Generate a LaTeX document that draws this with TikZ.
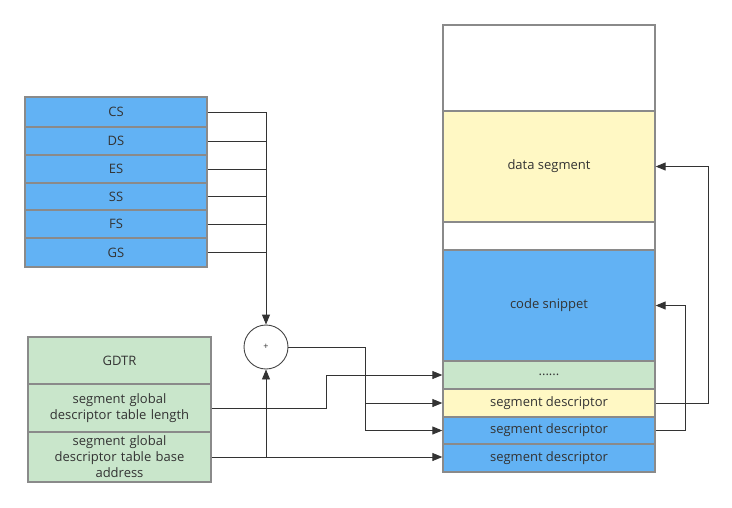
\documentclass[tikz,border=0pt]{standalone}
\usepackage{fontspec}
\setmainfont{Open Sans}
\usetikzlibrary{arrows.meta}
\definecolor{cblue}{HTML}{62B2F4}
\definecolor{cyellow}{HTML}{FFF8C4}
\definecolor{cgreen}{HTML}{C9E6CB}
\definecolor{cborder}{HTML}{8A8A8A}
\definecolor{csep}{HTML}{454545}
\definecolor{ctext}{HTML}{333333}
\definecolor{cline}{HTML}{333333}
\tikzset{
  cell/.style={draw=cborder, line width=1.3pt, rectangle, inner sep=0pt, text=ctext,
    font=\fontsize{13}{16}\selectfont, align=center},
  conn/.style={draw=cline, line width=0.9pt},
  arr/.style={conn, -{Triangle[length=10pt,width=8pt]}},
}
\begin{document}
\begin{tikzpicture}[x=1pt,y=-1pt]
\useasboundingbox (0,0) rectangle (732,507);
% registers
\node[cell, fill=cblue, minimum width=182pt, minimum height=30pt] (cs) at (116,112) {CS};
\node[cell, fill=cblue, minimum width=182pt, minimum height=28pt] (ds) at (116,141) {DS};
\node[cell, fill=cblue, minimum width=182pt, minimum height=28pt] (es) at (116,169) {ES};
\node[cell, fill=cblue, minimum width=182pt, minimum height=27pt] (ss) at (116,196.5) {SS};
\node[cell, fill=cblue, minimum width=182pt, minimum height=28pt] (fs) at (116,224) {FS};
\node[cell, fill=cblue, minimum width=182pt, minimum height=29pt] (gs) at (116,252.5) {GS};
% GDTR
\node[cell, fill=cgreen, minimum width=183pt, minimum height=47pt] (gdtr) at (119.5,360.5) {GDTR};
\node[cell, fill=cgreen, minimum width=183pt, minimum height=48pt, text width=178pt] (len) at (119.5,408) {segment global\\descriptor table length};
\node[cell, fill=cgreen, minimum width=183pt, minimum height=50pt, text width=178pt] (base) at (119.5,457) {segment global\\descriptor table base\\address};
% adder
\node[circle, draw=csep, line width=0.9pt, minimum size=44pt, inner sep=0pt, text=ctext, font=\fontsize{9}{10}\selectfont] (plus) at (266,347) {+};
% memory
\node[cell, fill=white, minimum width=212pt, minimum height=86pt] (top) at (549,68) {};
\node[cell, fill=cyellow, minimum width=212pt, minimum height=111pt] (data) at (549,166.5) {data segment};
\node[cell, fill=white, minimum width=212pt, minimum height=28pt] (gap) at (549,236) {};
\node[cell, fill=cblue, minimum width=212pt, minimum height=111pt] (code) at (549,305.5) {code snippet};
\node[cell, fill=cgreen, minimum width=212pt, minimum height=28pt] (dots) at (549,375) {......};
\node[cell, fill=cyellow, minimum width=212pt, minimum height=28pt] (sd1) at (549,403) {segment descriptor};
\node[cell, fill=cblue, minimum width=212pt, minimum height=27pt] (sd2) at (549,430.5) {segment descriptor};
\node[cell, fill=cblue, minimum width=212pt, minimum height=28pt] (sd3) at (549,458) {segment descriptor};
% register connectors
\draw[arr] (cs.east) -| (plus.north);
\draw[conn] (ds.east) -- (ds.east -| plus.north);
\draw[conn] (es.east) -- (es.east -| plus.north);
\draw[conn] (ss.east) -- (ss.east -| plus.north);
\draw[conn] (fs.east) -- (fs.east -| plus.north);
\draw[conn] (gs.east) -- (gs.east -| plus.north);
% GDTR connectors
\coordinate (jb) at (base.east -| plus.south);
\draw[arr] (base.east) -- (base.east -| sd3.west);
\draw[arr] (jb) -- (plus.south);
\coordinate (jl) at (326,408);
\draw[arr] (len.east) -- (jl) |- (dots.west);
% adder output
\coordinate (jp) at (365,347);
\draw[arr] (plus.east) -- (jp) |- (sd1.west);
\draw[arr] (jp) |- (sd2.west);
% descriptors to segments
\coordinate (jr1) at (708,403);
\coordinate (jr2) at (685,430.5);
\draw[arr] (sd1.east) -- (jr1) |- (data.east);
\draw[arr] (sd2.east) -- (jr2) |- (code.east);
\end{tikzpicture}
\end{document}
